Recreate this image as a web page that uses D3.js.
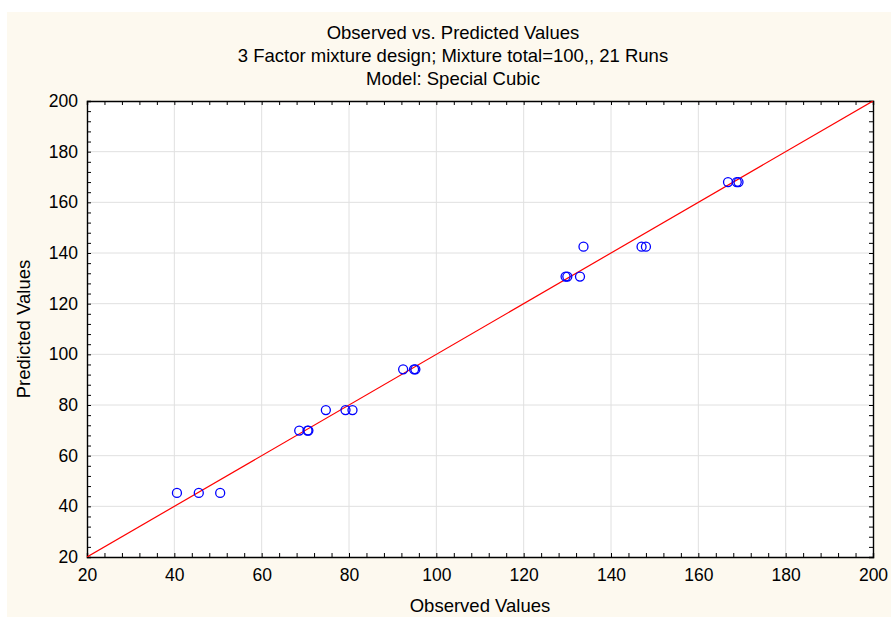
<!DOCTYPE html>
<html><head><meta charset="utf-8">
<script src="https://cdn.jsdelivr.net/npm/d3@7"></script>
<style>body{margin:0;background:#fff;} text{font-family:"Liberation Sans",Arial,sans-serif;}</style>
</head><body>
<svg id="c" width="891" height="617"></svg>
<script>
const titleLines = ["Observed vs. Predicted Values", "3 Factor mixture design; Mixture total=100,, 21 Runs", "Model: Special Cubic"];
const xLabel = "Observed Values";
const yLabel = "Predicted Values";
const observed  = [40.6, 45.6, 50.5, 68.6, 70.5, 70.7, 74.7, 79.2, 80.8, 92.4, 94.9, 95.2, 129.6, 130.0, 132.9, 133.7, 147.0, 148.0, 166.8, 168.8, 169.2];
const predicted = [45.3, 45.3, 45.3, 69.9, 69.9, 69.9, 78.0, 78.0, 78.0, 94.1, 94.1, 94.1, 130.7, 130.7, 130.7, 142.5, 142.5, 142.5, 168.0, 168.0, 168.0];
const tickValues = [20, 40, 60, 80, 100, 120, 140, 160, 180, 200];
const domain = [20, 200];

const svg = d3.select("#c");
const L = 87, R = 873, T = 101, B = 557;
svg.append("rect").attr("x", 7).attr("y", 12).attr("width", 884).attr("height", 605).attr("fill", "#fdf9ef");
svg.append("rect").attr("x", L).attr("y", T).attr("width", R - L).attr("height", B - T).attr("fill", "#fff");

const x = d3.scaleLinear().domain(domain).range([L, R]);
const y = d3.scaleLinear().domain(domain).range([B, T]);

// grid
svg.append("g").selectAll("line").data(tickValues.slice(1, -1)).join("line")
  .attr("x1", d => x(d)).attr("x2", d => x(d)).attr("y1", T).attr("y2", B)
  .attr("stroke", "#e0e0e0").attr("stroke-width", 1);
svg.append("g").selectAll("line").data(tickValues.slice(1, -1)).join("line")
  .attr("y1", d => y(d)).attr("y2", d => y(d)).attr("x1", L).attr("x2", R)
  .attr("stroke", "#e0e0e0").attr("stroke-width", 1);

const minor = d3.range(20, 201, 4);
function axisG(axis, tr) {
  const g = svg.append("g").attr("transform", tr).call(axis);
  g.select(".domain").attr("stroke", "#000").attr("stroke-width", 1.4);
  g.selectAll(".tick line").attr("stroke", "#000");
  return g;
}
// minor ticks inside on all four sides
axisG(d3.axisBottom(x).tickValues(minor).tickSize(-4).tickFormat(""), `translate(0,${B})`);
axisG(d3.axisTop(x).tickValues(minor).tickSize(-4).tickFormat(""), `translate(0,${T})`);
axisG(d3.axisLeft(y).tickValues(minor).tickSize(-4).tickFormat(""), `translate(${L},0)`);
axisG(d3.axisRight(y).tickValues(minor).tickSize(-4).tickFormat(""), `translate(${R},0)`);

const fam = "Liberation Sans, Arial, sans-serif";
// labels
const gx = svg.append("g").attr("transform", `translate(0,${B})`)
  .call(d3.axisBottom(x).tickValues(tickValues).tickSize(0).tickPadding(12).tickFormat(d3.format("d")));
gx.select(".domain").remove();
gx.selectAll("text").attr("font-size", 17.5).attr("fill", "#000").attr("font-family", fam);
const gy = svg.append("g").attr("transform", `translate(${L},0)`)
  .call(d3.axisLeft(y).tickValues(tickValues).tickSize(0).tickPadding(9).tickFormat(d3.format("d")));
gy.select(".domain").remove();
gy.selectAll("text").attr("font-size", 17.5).attr("fill", "#000").attr("font-family", fam);

// clip
svg.append("clipPath").attr("id", "clip").append("rect").attr("x", L).attr("y", T).attr("width", R - L).attr("height", B - T);

// identity line
svg.append("line").attr("clip-path", "url(#clip)")
  .attr("x1", x(domain[0])).attr("y1", y(domain[0])).attr("x2", x(domain[1])).attr("y2", y(domain[1]))
  .attr("stroke", "#ff0000").attr("stroke-width", 1.2);

// points
svg.append("g").selectAll("circle").data(observed.map((o, i) => [o, predicted[i]])).join("circle")
  .attr("cx", d => x(d[0])).attr("cy", d => y(d[1])).attr("r", 4.5)
  .attr("fill", "none").attr("stroke", "#0000ff").attr("stroke-width", 1.3);

// titles
svg.append("g").selectAll("text").data(titleLines).join("text")
  .attr("x", 453).attr("y", (d, i) => 39 + i * 23).attr("text-anchor", "middle")
  .attr("font-size", 18.5).attr("fill", "#000").text(d => d);
svg.append("text").attr("x", 480).attr("y", 612).attr("text-anchor", "middle").attr("font-size", 18.5).text(xLabel);
svg.append("text").attr("transform", `translate(30,${(T + B) / 2}) rotate(-90)`).attr("text-anchor", "middle").attr("font-size", 18.5).text(yLabel);
</script>
</body></html>
